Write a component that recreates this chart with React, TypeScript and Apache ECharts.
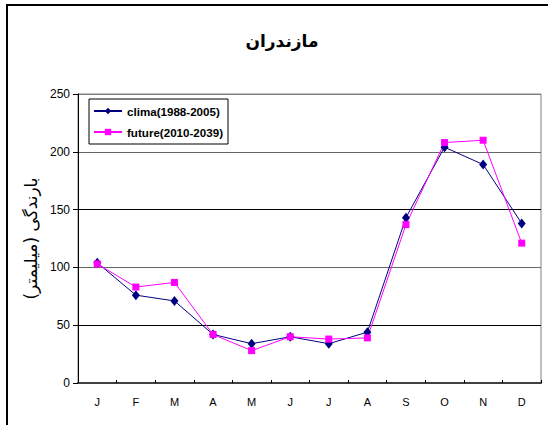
import React, { useEffect, useRef } from "react";
import * as echarts from "echarts";

const months = ["J", "F", "M", "A", "M", "J", "J", "A", "S", "O", "N", "D"];
const clima = [104, 76, 71, 42, 34, 40, 34, 44, 143, 204, 189, 138];
const future = [103, 83, 87, 42, 28, 40, 38, 39, 137, 208, 210, 121];
const titleText = "مازندران";
const yName = "بارندگی (میلیمتر)";
const climaName = "clima(1988-2005)";
const futureName = "future(2010-2039)";

export default function App() {
  const ref = useRef<HTMLDivElement>(null);
  useEffect(() => {
    document.body.style.margin = "0";
    const chart = echarts.init(ref.current!, null, { renderer: "svg" });
    chart.setOption({
      animation: false,
      backgroundColor: "#fff",
      graphic: [
        {
          type: "rect",
          shape: { x: 7, y: 5, width: 560, height: 440 },
          style: { fill: "none", stroke: "#000", lineWidth: 2 },
          silent: true,
        },
        {
          type: "text",
          x: 282,
          y: 41,
          style: {
            text: titleText,
            fontFamily: "DejaVu Sans",
            fontWeight: "bold",
            fontSize: 17,
            fill: "#000",
            align: "center",
            verticalAlign: "middle",
          },
          silent: true,
        },
      ],
      legend: {
        left: 89,
        top: 99,
        orient: "vertical",
        backgroundColor: "#fff",
        borderColor: "#000",
        borderWidth: 1,
        padding: [6, 5, 6, 4],
        itemWidth: 28,
        itemHeight: 8,
        itemGap: 9,
        textStyle: { fontFamily: "Arial, Liberation Sans", fontWeight: "bold", fontSize: 11.6, color: "#000" },
        data: [climaName, futureName],
      },
      grid: {
        left: 78,
        top: 94,
        right: 7,
        bottom: 42,
        show: true,
        borderColor: "#808080",
        borderWidth: 1,
        containLabel: false,
      },
      xAxis: {
        type: "category",
        data: months,
        boundaryGap: true,
        axisLine: { lineStyle: { color: "#404040", width: 2 } },
        axisTick: { show: true, inside: true, length: 3, lineStyle: { color: "#000" } },
        axisLabel: { color: "#000", fontFamily: "Arial, Liberation Sans", fontSize: 11, margin: 13, interval: 0 },
        splitLine: { show: false },
      },
      yAxis: {
        type: "value",
        min: 0,
        max: 250,
        interval: 50,
        name: yName,
        nameLocation: "middle",
        nameGap: 31,
        nameRotate: 90,
        nameTextStyle: { fontFamily: "DejaVu Sans", fontSize: 17, color: "#000" },
        axisLine: { show: true, lineStyle: { color: "#000", width: 1 } },
        axisTick: { show: true, inside: false, length: 5, lineStyle: { color: "#000" } },
        axisLabel: { color: "#000", fontFamily: "Arial, Liberation Sans", fontSize: 12, margin: 8 },
        splitLine: {
          show: true,
          lineStyle: { color: ["#000", "#000", "#666", "#000", "#666", "#808080"], width: 1 },
        },
      },
      series: [
        {
          name: climaName,
          type: "line",
          data: clima,
          color: "#000080",
          symbol: "diamond",
          symbolSize: [8, 10],
          lineStyle: { width: 1, color: "#000080" },
          itemStyle: { color: "#000080" },
        },
        {
          name: futureName,
          type: "line",
          data: future,
          color: "#FF00FF",
          symbol: "rect",
          symbolSize: 7,
          lineStyle: { width: 1, color: "#FF00FF" },
          itemStyle: { color: "#FF00FF" },
        },
      ],
    });
    return () => chart.dispose();
  }, []);
  return <div ref={ref} style={{ position: "fixed", left: 0, top: 0, width: 548, height: 425 }} />;
}
